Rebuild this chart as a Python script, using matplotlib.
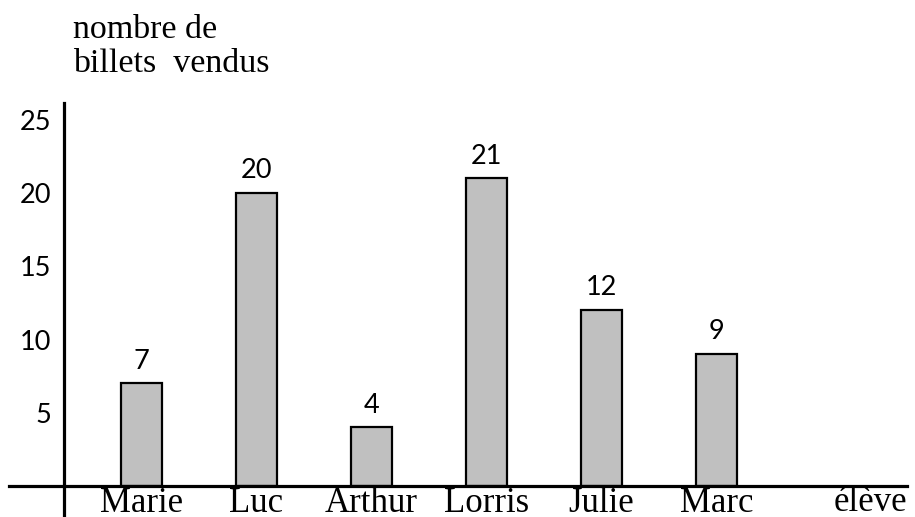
import matplotlib
matplotlib.use("Agg")
import matplotlib.pyplot as plt

eleves = ["Marie", "Luc", "Arthur", "Lorris", "Julie", "Marc"]
billets = [7, 20, 4, 21, 12, 9]
yticks = [5, 10, 15, 20, 25]

W, H = 915, 517
fig = plt.figure(figsize=(W / 100, H / 100), dpi=100)
ax = fig.add_axes([9 / W, 0, (907 - 9) / W, (517 - 103) / H])

x = list(range(len(eleves)))
ax.bar(x, billets, width=0.36, color="#c0c0c0", edgecolor="black", linewidth=1.6, zorder=2)

px_per_cat = 115.0
px_per_unit = 14.65
x0_px = 141.5
ax.set_xlim((9 - x0_px) / px_per_cat, (907 - x0_px) / px_per_cat)
ax.set_ylim(-(517 - 486) / px_per_unit, (486 - 103) / px_per_unit)

for s in ["top", "right"]:
    ax.spines[s].set_visible(False)
ax.spines["left"].set_position(("data", (64 - x0_px) / px_per_cat))
ax.spines["bottom"].set_position(("data", 0))
for s in ["left", "bottom"]:
    ax.spines[s].set_linewidth(2.3)
    ax.spines[s].set_zorder(3)

ax.set_yticks(yticks)
ax.set_yticklabels([str(v) for v in yticks], fontfamily="Lato", fontsize=19.5)
ax.tick_params(axis="y", length=0, pad=9)
ax.set_xticks(x)
ax.set_xticklabels(eleves, fontfamily="Liberation Serif", fontsize=25)
ax.tick_params(axis="x", length=0, pad=1)

for xi, v in zip(x, billets):
    ax.annotate(str(v), (xi, v), xytext=(0, 7), textcoords="offset points",
                ha="center", va="bottom", fontfamily="Lato", fontsize=19.5)

ax.text(1.0, 0, "élève", transform=ax.get_yaxis_transform(),
        ha="right", va="top", fontfamily="Liberation Serif", fontsize=25)

fig.text(73 / W, 1 - 15 / H, "nombre de\nbillets  vendus", ha="left", va="top",
         fontfamily="Liberation Serif", fontsize=24.5, linespacing=1.12)

fig.savefig("out.png", dpi=100)
